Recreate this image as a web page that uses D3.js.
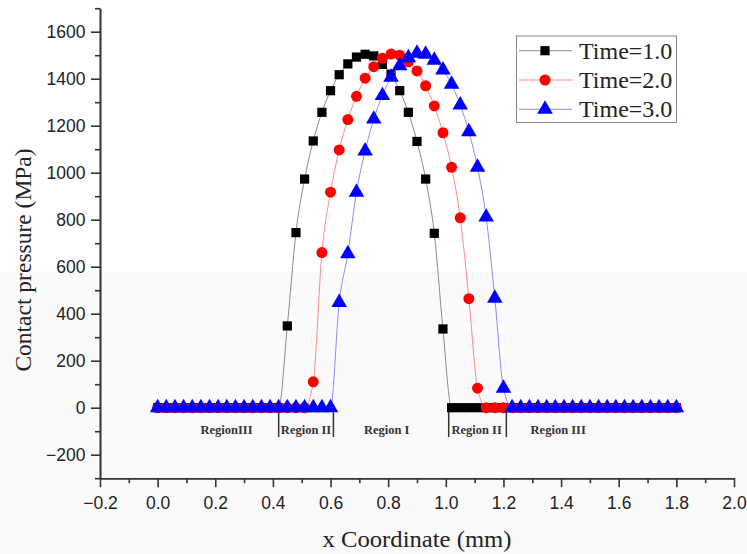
<!DOCTYPE html>
<html><head><meta charset="utf-8">
<script src="https://cdn.jsdelivr.net/npm/d3@7"></script>
<style>html,body{margin:0;padding:0;background:#fff;}svg{display:block;}</style>
</head><body>
<svg id="chart" width="747" height="554"></svg>
<script>
const xCoords = [0.00,0.03,0.06,0.09,0.12,0.15,0.18,0.21,0.24,0.27,0.30,0.33,0.36,0.39,0.42,0.45,0.48,0.51,0.54,0.57,0.60,0.63,0.66,0.69,0.72,0.75,0.78,0.81,0.84,0.87,0.90,0.93,0.96,0.99,1.02,1.05,1.08,1.11,1.14,1.17,1.20,1.23,1.26,1.29,1.32,1.35,1.38,1.41,1.44,1.47,1.50,1.53,1.56,1.59,1.62,1.65,1.68,1.71,1.74,1.77,1.80];
const time1 = [0,0,0,0,0,0,0,0,0,0,0,0,0,0,0,348,745,973,1135,1257,1349,1417,1463,1492,1504,1497,1461,1419,1349,1257,1133,973,742,335,0,0,0,0,0,0,0,0,0,0,0,0,0,0,0,0,0,0,0,0,0,0,0,0,0,0,0];
const time2 = [0,0,0,0,0,0,0,0,0,0,0,0,0,0,0,0,0,0,110,660,917,1097,1226,1325,1402,1451,1487,1505,1500,1472,1433,1370,1284,1170,1023,808,464,83,0,0,0,0,0,0,0,0,0,0,0,0,0,0,0,0,0,0,0,0,0,0,0];
const time3 = [0,0,0,0,0,0,0,0,0,0,0,0,0,0,0,0,0,0,0,0,0,448,655,917,1092,1228,1328,1406,1455,1489,1508,1504,1479,1437,1376,1288,1174,1023,811,466,83,0,0,0,0,0,0,0,0,0,0,0,0,0,0,0,0,0,0,0,0];
const seriesNames = ["Time=1.0","Time=2.0","Time=3.0"];
const xTicks = [-0.2,0.0,0.2,0.4,0.6,0.8,1.0,1.2,1.4,1.6,1.8,2.0];
const xMinorTicks = [-0.1,0.1,0.3,0.5,0.7,0.9,1.1,1.3,1.5,1.7,1.9];
const yTicks = [-200,0,200,400,600,800,1000,1200,1400,1600];
const yMinorTicks = [-300,-100,100,300,500,700,900,1100,1300,1500,1700];
const regionBounds = [0.42,0.61,1.01,1.21];
const regionLabels = ["RegionIII","Region II","Region I","Region II","Region III"];
const regionLabelX = [0.239,0.515,0.795,1.107,1.39];

const svg = d3.select("#chart");
const L=100,R=734,T=8.2,B=478.2;
const x = d3.scaleLinear().domain([-0.2,2.0]).range([L,R]);
const y = d3.scaleLinear().domain([-300,1700]).range([B,T]);

svg.append("rect").attr("x",0).attr("y",272).attr("width",747).attr("height",282).attr("fill","#fafafa");

const axisColor="#333";
const xa = svg.append("g").attr("transform",`translate(0,${B})`)
  .call(d3.axisBottom(x).tickValues(xTicks).tickFormat(d3.format(".1f")).tickSize(9).tickSizeOuter(0));
const xm = svg.append("g").attr("transform",`translate(0,${B})`)
  .call(d3.axisBottom(x).tickValues(xMinorTicks).tickFormat("").tickSize(5).tickSizeOuter(0));
const ya = svg.append("g").attr("transform",`translate(${L},0)`)
  .call(d3.axisLeft(y).tickValues(yTicks).tickFormat(d3.format("d")).tickSize(9).tickSizeOuter(0));
const ym = svg.append("g").attr("transform",`translate(${L},0)`)
  .call(d3.axisLeft(y).tickValues(yMinorTicks).tickFormat("").tickSize(5).tickSizeOuter(0));
[xa,xm,ya,ym].forEach(g=>{
  g.selectAll("path,line").attr("stroke",axisColor).attr("stroke-width",1.6);
});
xa.selectAll("text").attr("font-family","'Liberation Sans',Arial,sans-serif").attr("font-size",17.5).attr("fill","#222").attr("dy","1.05em");
ya.selectAll("text").attr("font-family","'Liberation Sans',Arial,sans-serif").attr("font-size",17.5).attr("fill","#222").attr("dx","-0.15em");

svg.append("text").attr("x",417).attr("y",547).attr("text-anchor","middle")
  .attr("font-family","'Liberation Serif','Times New Roman',serif").attr("font-size",23).attr("fill","#222")
  .attr("textLength",189).attr("lengthAdjust","spacingAndGlyphs")
  .text("x Coordinate (mm)");
svg.append("text").attr("transform","translate(31,260) rotate(-90)").attr("text-anchor","middle")
  .attr("font-family","'Liberation Serif','Times New Roman',serif").attr("font-size",23.5).attr("fill","#222")
  .text("Contact pressure (MPa)");

regionBounds.forEach(b=>{
  svg.append("line").attr("x1",x(b)).attr("x2",x(b)).attr("y1",y(0)).attr("y2",y(-125))
    .attr("stroke","#333").attr("stroke-width",1.5);
});
regionLabels.forEach((t,i)=>{
  svg.append("text").attr("x",x(regionLabelX[i])).attr("y",y(-112)).attr("text-anchor","middle")
    .attr("font-family","'Liberation Serif','Times New Roman',serif").attr("font-weight","bold")
    .attr("font-size",12.5).attr("fill","#333").text(t);
});

const series = [
  {name:seriesNames[0], vals:time1, color:"#000", line:"#8a8a8a", sym:d3.symbolSquare, size:85},
  {name:seriesNames[1], vals:time2, color:"#ff0000", line:"#ff8a8a", sym:d3.symbolCircle, size:95},
  {name:seriesNames[2], vals:time3, color:"#0000ff", line:"#8a8aff", sym:d3.symbolTriangle, size:105}
];
const lineGen = d3.line().x(d=>x(d[0])).y(d=>y(d[1])).curve(d3.curveMonotoneX);
series.forEach(s=>{
  const pts = xCoords.map((xv,i)=>[xv,s.vals[i]]);
  svg.append("path").datum(pts).attr("d",lineGen).attr("fill","none").attr("stroke",s.line).attr("stroke-width",1);
  svg.append("g").selectAll("path").data(pts).join("path")
    .attr("transform",d=>`translate(${x(d[0])},${y(d[1])})`)
    .attr("d",d3.symbol().type(s.sym).size(s.size)).attr("fill",s.color);
});

const lg = svg.append("g");
lg.append("rect").attr("x",516.5).attr("y",36).attr("width",160).attr("height",86.5)
  .attr("fill","#fff").attr("stroke","#888").attr("stroke-width",1);
series.forEach((s,i)=>{
  const yy = 50.7 + i*29.3;
  lg.append("line").attr("x1",519).attr("x2",572).attr("y1",yy).attr("y2",yy).attr("stroke",s.line).attr("stroke-width",1);
  lg.append("path").attr("transform",`translate(545,${yy})`).attr("d",d3.symbol().type(s.sym).size(s.size)).attr("fill",s.color);
  lg.append("text").attr("x",579).attr("y",yy+8).attr("font-family","'Liberation Serif','Times New Roman',serif")
    .attr("font-size",24).attr("fill","#222").text(s.name);
});
</script>
</body></html>
